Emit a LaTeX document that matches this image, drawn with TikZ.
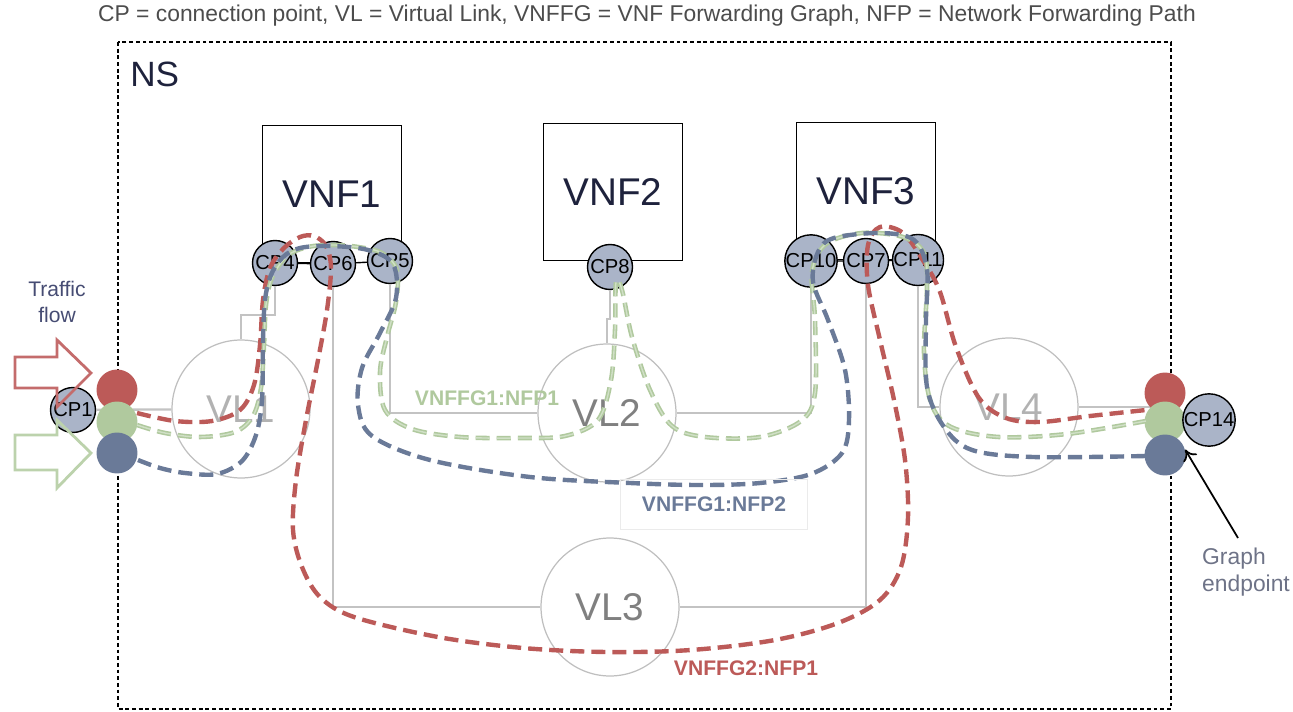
\documentclass[tikz,border=0pt]{standalone}
\usepackage{fontspec}
\setmainfont{Liberation Sans}
\usetikzlibrary{arrows.meta}
\definecolor{cpfill}{RGB}{170,180,200}
\definecolor{nfpred}{RGB}{188,90,88}
\definecolor{nfpgreen}{RGB}{176,201,158}
\definecolor{nfpgreenin}{RGB}{208,224,198}
\definecolor{nfpblue}{RGB}{106,122,152}
\definecolor{linkgray}{RGB}{195,195,195}
\definecolor{flowred}{RGB}{196,108,108}
\definecolor{flowgreen}{RGB}{188,210,172}
\definecolor{flowtext}{RGB}{70,76,115}
\definecolor{vnftext}{RGB}{30,34,60}
\begin{document}
\begin{tikzpicture}[x=0.02cm,y=-0.02cm,
  cp/.style={circle,draw,line width=0.8pt,fill=cpfill,minimum size=0.9cm,inner sep=0pt,font=\fontsize{11.5}{11.5}\selectfont},
  ep/.style={circle,minimum size=0.82cm,inner sep=0pt},
  vnf/.style={draw,line width=0.8pt,fill=white,minimum width=2.78cm,minimum height=2.74cm,text=vnftext,font=\fontsize{22}{22}\selectfont},
  vl/.style={circle,draw=black!25,line width=0.7pt,minimum size=2.76cm,inner sep=0pt,font=\fontsize{22}{22}\selectfont},
  link/.style={draw=linkgray,line width=1.3pt},
  nfp/.style={line width=2.5pt,dash pattern=on 8pt off 4pt},
  nfplabel/.style={font=\bfseries\fontsize{12}{12}\selectfont}]
\useasboundingbox (0,0) rectangle (1293,712);
\node[text=black!70,font=\fontsize{13}{13}\selectfont] (title) at (647,16) {CP = connection point, VL = Virtual Link, VNFFG = VNF Forwarding Graph, NFP = Network Forwarding Path};
\draw[line width=0.7pt,dash pattern=on 2.2pt off 1.6pt] (118,42) rectangle (1171,709);
\node[anchor=north west,inner sep=0pt,text=vnftext,font=\fontsize{20}{20}\selectfont] (ns) at (130,62) {NS};

\node[vnf] (vnf1) at (332,194) {VNF1};
\node[vnf] (vnf2) at (613,192) {VNF2};
\node[vnf] (vnf3) at (866,191) {VNF3};

\node[vl,text=black!30] (vl1) at (241,409) {VL1};
\node[vl,text=black!50] (vl2) at (607,413) {VL2};
\node[vl,text=black!50] (vl3) at (610,607) {VL3};
\node[vl,text=black!30] (vl4) at (1009,407) {VL4};

\node[cp] (cp4) at (275,263) {CP4};
\node[cp] (cp6) at (333,264) {CP6};
\node[cp] (cp5) at (390,261) {CP5};
\node[cp] (cp8) at (610,267) {CP8};
\node[cp] (cp10) at (811,261) {CP10};
\node[cp] (cp7) at (866,261) {CP7};
\node[cp] (cp11) at (918,260) {CP11};
\node[cp] (cp1) at (73,410) {CP1};

\draw[line width=0.8pt] (cp4) -- (cp6) -- (cp5);
\draw[line width=0.8pt] (cp10) -- (cp7) -- (cp11);

\draw[link] (cp1) -- (vl1);
\draw[link] (cp4) -- ++(0,52) -| (vl1);
\draw[link] (cp8) -- ++(0,52) -| (vl2);
\draw[link] (cp5) |- (vl2);
\draw[link] (vl2) -| (cp10);
\draw[link] (cp6) |- (vl3);
\draw[link] (vl3) -| (cp7);
\draw[link] (cp11) |- (vl4);
\draw[link] (vl4) -- (vl4 -| 1165,0);

\node[ep,fill=nfpred] (epr1) at (117,390) {};
\node[ep,fill=nfpgreen] (epg1) at (117,422) {};
\node[ep,fill=nfpblue] (epb1) at (117,453) {};
\node[ep,fill=nfpred] (epr2) at (1165,393) {};
\node[ep,fill=nfpgreen] (epg2) at (1165,422) {};
\node[ep,fill=nfpblue] (epb2) at (1165,455) {};
\node[cp] (cp14) at (1209,420) {CP14};

\draw[nfp,draw=nfpred] plot[smooth,tension=0.55] coordinates {(137,413) (175,421) (212,421) (240,410) (254,385) (260,345) (263,300) (270,268) (284,248) (300,237) (314,236) (326,246) (331,268) (327,310) (318,360) (306,420) (296,480) (293,530) (302,567) (320,597) (354,617) (438,637) (523,648) (607,652) (691,650) (775,640) (838,623) (880,600) (901,567) (908,517) (905,460) (894,400) (880,340) (868,285) (868,245) (880,227) (903,233) (924,262) (940,292) (956,347) (979,398) (1006,418) (1040,422) (1090,416) (1146,410)};
\draw[nfp,draw=nfpgreen,double=nfpgreenin,double distance=0.8pt,line width=0.9pt] plot[smooth,tension=0.55] coordinates {(137,425) (165,433) (200,437) (235,432) (253,416) (261,388) (264,345) (266,305) (272,278) (287,256) (308,247) (333,245) (358,247) (382,253) (397,270) (396,302) (387,337) (380,372) (385,410) (412,429) (460,437) (520,438) (565,436) (598,420) (611,380) (615,330) (616,282) (622,290) (632,337) (650,390) (672,426) (705,437) (760,437) (801,421) (815,393) (815,320) (812,272) (826,244) (862,233) (903,237) (924,253) (927,287) (924,353) (931,403) (951,427) (999,437) (1067,434) (1146,421)};
\draw[nfp,draw=nfpblue] plot[smooth,tension=0.55] coordinates {(138,460) (160,468) (185,473) (217,474) (242,461) (256,435) (262,400) (263,340) (265,300) (271,275) (283,257) (300,248) (330,246) (368,250) (393,264) (396,298) (380,333) (362,368) (358,405) (372,436) (430,460) (530,477) (630,483) (700,485) (760,483) (811,474) (842,453) (849,420) (845,370) (828,320) (813,282) (818,252) (834,238) (880,233) (914,240) (927,270) (926,320) (927,387) (944,427) (972,450) (1033,457) (1146,456)};

\draw[line width=1.6pt,draw=flowred,line join=miter] (15,357) -- (57,357) -- (57,340) -- (91,373) -- (57,407) -- (57,388) -- (15,388) -- cycle;
\draw[line width=1.6pt,draw=flowgreen,line join=miter] (15,435) -- (57,435) -- (57,420) -- (91,453) -- (57,488) -- (57,470) -- (15,470) -- cycle;
\node[align=center,text=flowtext,font=\fontsize{12}{15}\selectfont] (flow) at (57,302) {Traffic\\flow};

\node[nfplabel,text=nfpgreen] (nfp11) at (487,398) {VNFFG1:NFP1};
\node[nfplabel,text=nfpblue,draw=black!8,minimum width=3.74cm,minimum height=1cm] (nfp12) at (714,504) {VNFFG1:NFP2};
\node[nfplabel,text=nfpred] (nfp21) at (746,668) {VNFFG2:NFP1};

\node[anchor=west,align=left,text={rgb,255:red,110;green,115;blue,135},font=\fontsize{13}{15.5}\selectfont] (ge) at (1196,572) {Graph\\endpoint};
\coordinate (getail) at (1238,538);
\draw[-{To[length=6pt,width=9pt]},line width=1pt] (getail) -- (epb2.15);
\end{tikzpicture}
\end{document}
